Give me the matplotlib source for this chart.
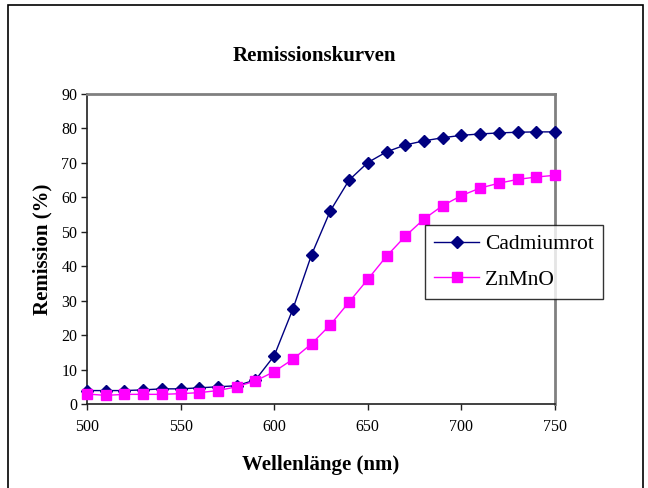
import matplotlib
matplotlib.use("Agg")
import matplotlib.pyplot as plt
from matplotlib.patches import Rectangle

# Wellenlängen und Remissionswerte
wavelength = [500, 510, 520, 530, 540, 550, 560, 570, 580, 590, 600, 610, 620,
              630, 640, 650, 660, 670, 680, 690, 700, 710, 720, 730, 740, 750]
cadmiumrot = [3.9, 3.9, 3.9, 4.1, 4.4, 4.4, 4.7, 5.0, 5.3, 7.0, 14.0, 27.6, 43.4,
              56.1, 65.0, 70.1, 73.2, 75.2, 76.4, 77.3, 78.0, 78.4, 78.7, 78.9, 79.0, 79.0]
znmno = [2.9, 2.5, 2.8, 2.8, 2.8, 3.0, 3.3, 3.9, 5.0, 6.7, 9.4, 13.0, 17.5,
         23.0, 29.6, 36.2, 42.9, 48.7, 53.7, 57.6, 60.5, 62.7, 64.1, 65.2, 65.9, 66.4]

plt.rcParams['font.family'] = ['Liberation Serif', 'DejaVu Serif']

fig = plt.figure(figsize=(6.48, 4.88), dpi=100)
ax = fig.add_axes([87/648, 1 - 404/488, (555 - 87)/648, (404 - 94)/488])

# Rahmen um das ganze Diagramm
fig.patches.append(Rectangle((8/648, -0.05), (643 - 8)/648, 1.05 - 5/488,
                             transform=fig.transFigure, fill=False,
                             edgecolor='black', linewidth=1.2))

ax.plot(wavelength, cadmiumrot, color='#000080', marker='D', markersize=6.5,
        linewidth=1, label='Cadmiumrot', clip_on=False, zorder=3)
ax.plot(wavelength, znmno, color='#FF00FF', marker='s', markersize=7.5,
        linewidth=1, label='ZnMnO', clip_on=False, zorder=3)

ax.set_xlim(500, 750)
ax.set_ylim(0, 90)
ax.set_xticks(range(500, 751, 50))
ax.set_yticks(range(0, 91, 10))

# oben/rechts grau, unten/links dunkel
for side in ['top', 'right']:
    ax.spines[side].set_color('#808080')
    ax.spines[side].set_linewidth(2)
for side in ['bottom', 'left']:
    ax.spines[side].set_color('#202020')
    ax.spines[side].set_linewidth(1.2)
ax.tick_params(direction='out', length=4, width=1, color='#202020',
               labelsize=11.5)
ax.tick_params(axis='x', pad=7)
ax.tick_params(axis='y', pad=3)

ax.set_title('Remissionskurven', fontsize=15, fontweight='bold', pad=24, x=0.485)
ax.set_xlabel('Wellenlänge (nm)', fontsize=15, fontweight='bold', labelpad=14)
ax.set_ylabel('Remission (%)', fontsize=15, fontweight='bold', labelpad=6)

leg = ax.legend(loc='upper left', bbox_to_anchor=(425/648, 1 - 225/488),
                bbox_transform=fig.transFigure, fontsize=15.5, frameon=True,
                fancybox=False, handlelength=2.1, borderpad=0.42,
                labelspacing=0.72, handletextpad=0.25, borderaxespad=0)
leg.get_frame().set_edgecolor('black')
leg.get_frame().set_linewidth(1)

fig.savefig('out.png', dpi=100)
